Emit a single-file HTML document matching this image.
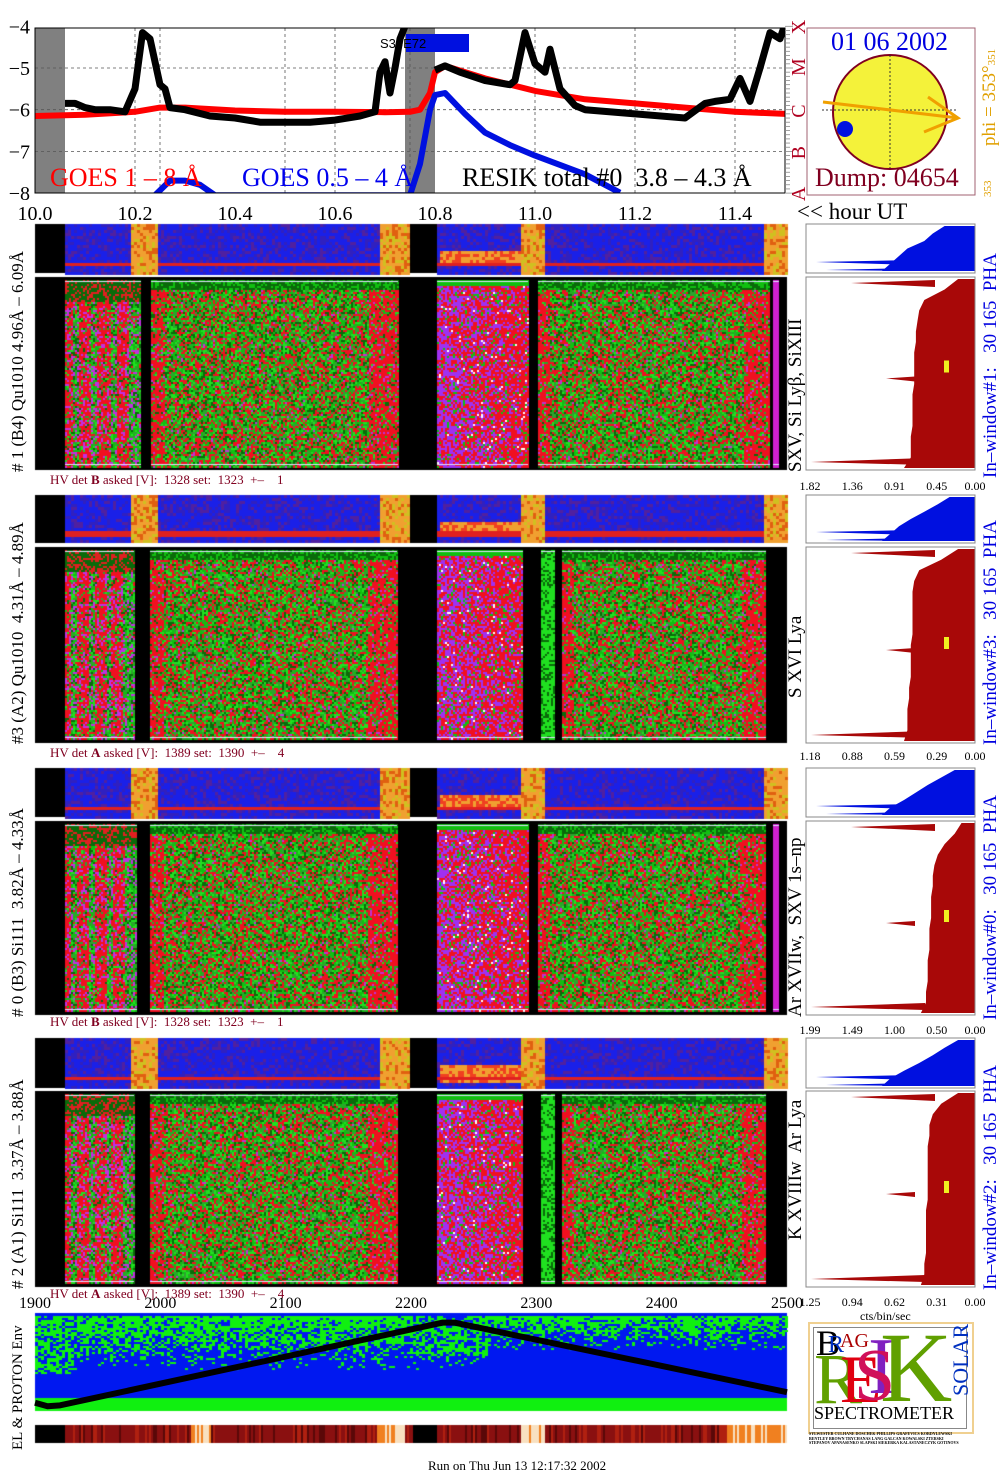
<!DOCTYPE html>
<html><head><meta charset="utf-8">
<style>
body{margin:0;background:#fff;width:1008px;height:1481px;position:relative;overflow:hidden;font-family:"Liberation Serif",serif}
.a{position:absolute}
canvas{position:absolute}
.rot{position:absolute;transform-origin:0 0;transform:rotate(-90deg);white-space:nowrap}
.hv{position:absolute;font-size:13px;color:#800020;white-space:nowrap}
</style></head><body>
<canvas id="cv" width="1008" height="1481" style="left:0;top:0"></canvas>
<svg class="a" style="left:0;top:0" width="1008" height="225" id="topsvg">
</svg>
<svg class="a" style="left:0;top:0" width="1008" height="1481" id="ov"></svg>

<div class="rot" style="left:8px;top:472px;font-size:17px">#&nbsp;1 (B4) Qu1010 4.96Å – 6.09Å</div>
<div class="rot" style="left:8px;top:744px;font-size:17px">#3 (A2) Qu1010&nbsp; 4.31Å – 4.89Å</div>
<div class="rot" style="left:8px;top:1017px;font-size:17px">#&nbsp;0 (B3) Si111&nbsp; 3.82Å – 4.33Å</div>
<div class="rot" style="left:8px;top:1289px;font-size:17px">#&nbsp;2 (A1) Si111&nbsp; 3.37Å – 3.88Å</div>
<div class="rot" style="left:10px;top:1450px;font-size:15px">EL &amp; PROTON Env</div>

<div class="rot" style="left:785px;top:472px;font-size:19px">SXV, Si Lyβ, SiXIII</div>
<div class="rot" style="left:785px;top:698px;font-size:19px">S XVI Lya</div>
<div class="rot" style="left:785px;top:1017px;font-size:19px">Ar XVIIw,&nbsp; SXV 1s–np</div>
<div class="rot" style="left:785px;top:1240px;font-size:19px">K XVIIIw&nbsp; Ar Lya</div>

<div class="rot" style="left:980px;top:478px;font-size:19px;color:#0000e0">In–window#1:&nbsp;&nbsp; 30 165&nbsp; PHA</div>
<div class="rot" style="left:980px;top:745px;font-size:19px;color:#0000e0">In–window#3:&nbsp;&nbsp; 30 165&nbsp; PHA</div>
<div class="rot" style="left:980px;top:1020px;font-size:19px;color:#0000e0">In–window#0:&nbsp;&nbsp; 30 165&nbsp; PHA</div>
<div class="rot" style="left:980px;top:1290px;font-size:19px;color:#0000e0">In–window#2:&nbsp;&nbsp; 30 165&nbsp; PHA</div>

<div class="hv" style="left:50px;top:472px">HV det <b>B</b> asked [V]:&nbsp; 1328 set:&nbsp; 1323&nbsp; +–&nbsp;&nbsp;&nbsp; 1</div>
<div class="hv" style="left:50px;top:745px">HV det <b>A</b> asked [V]:&nbsp; 1389 set:&nbsp; 1390&nbsp; +–&nbsp;&nbsp;&nbsp; 4</div>
<div class="hv" style="left:50px;top:1014px">HV det <b>B</b> asked [V]:&nbsp; 1328 set:&nbsp; 1323&nbsp; +–&nbsp;&nbsp;&nbsp; 1</div>
<div class="hv" style="left:50px;top:1286px">HV det <b>A</b> asked [V]:&nbsp; 1389 set:&nbsp; 1390&nbsp; +–&nbsp;&nbsp;&nbsp; 4</div>

<div class="a" style="left:831px;top:27px;font-size:26px;color:#0000e0">01 06 2002</div>
<div class="a" style="left:815px;top:163px;font-size:26px;color:#800020">Dump: 04654</div>
<div class="rot" style="left:979px;top:146px;font-size:19px;color:#e0a000">phi = 353°<span style="font-size:11px">351</span></div>
<div class="rot" style="left:982px;top:197px;font-size:11px;color:#e0a000">353</div>
<div class="a" style="left:797px;top:199px;font-size:23px">&lt;&lt; hour UT</div>
<div class="a" style="left:860px;top:1309px;font-size:12px">cts/bin/sec</div>
<div class="a" style="left:428px;top:1458px;font-size:13px">Run on Thu Jun 13 12:17:32 2002</div>

<div class="a" style="left:808px;top:1322px;width:162px;height:108px;border:2px solid #f0d090;background:#fff;overflow:hidden">
 <div class="a" style="left:3px;top:3px;width:152px;height:100px;border:1px solid #888"></div>
 <div class="a" style="left:6px;top:-2px;font-size:36px;color:#000">B</div>
 <div class="a" style="left:18px;top:8px;font-size:24px;color:#0030c0">R</div>
 <div class="a" style="left:30px;top:6px;font-size:20px;color:#a00">AG</div>
 <div class="a" style="left:4px;top:14px;font-size:72px;color:#60a000">R</div>
 <div class="a" style="left:30px;top:16px;font-size:68px;color:#e00010">E</div>
 <div class="a" style="left:58px;top:-2px;font-size:80px;color:#8020c0">I</div>
 <div class="a" style="left:44px;top:10px;font-size:74px;color:#d0105a">S</div>
 <div class="a" style="left:70px;top:-14px;font-size:100px;color:#60a000">K</div>
 <div class="rot" style="left:138px;top:72px;font-size:22px;color:#0030c0">SOLAR</div>
 <div class="a" style="left:4px;top:80px;font-size:18px;color:#000;background:#fff;line-height:18px">SPECTROMETER</div>
</div>
<div class="a" style="left:809px;top:1432px;font-size:4px;line-height:4.5px;width:165px;font-weight:bold">SYLWESTER CULHANE DOSCHEK PHILLIPS GRAFEVICS KORDYLEWSKI<br>BENTLEY BROWN TRYCHANAS LANG GALCAN KOWALSKI ZTERSKI<br>STEPANOV APANASENKO SLAPSKI SIEKERKA KALASTANECZYK GOTINOVS</div>

<script>
// ---------- GOES / RESIK chart data ----------
const resikT = [10.06,10.08,10.10,10.12,10.15,10.18,10.20,10.215,10.23,10.25,10.26,10.27,10.30,10.35,10.40,10.45,10.50,10.55,10.60,10.65,10.68,10.69,10.70,10.71,10.72,10.73,10.74,10.745];
const resikV = [-5.85,-5.85,-5.95,-6.0,-6.0,-6.05,-5.5,-4.15,-4.3,-5.4,-5.5,-5.95,-6.0,-6.15,-6.2,-6.3,-6.3,-6.3,-6.25,-6.15,-6.05,-5.1,-4.85,-5.6,-5.0,-4.3,-4.0,-3.9];
const resikT2 = [10.8,10.82,10.85,10.9,10.95,10.96,10.98,11.0,11.02,11.03,11.05,11.08,11.1,11.2,11.3,11.34,11.36,11.39,11.41,11.43,11.45,11.47,11.49,11.5];
const resikV2 = [-5.05,-4.95,-5.1,-5.3,-5.4,-5.3,-4.15,-4.9,-5.1,-4.55,-5.5,-5.9,-6.0,-6.1,-6.2,-5.85,-5.8,-5.75,-5.25,-5.8,-5.0,-4.15,-4.3,-3.95];
const goesLT = [10.0,10.1,10.2,10.25,10.3,10.4,10.5,10.6,10.7,10.75,10.77,10.79,10.8,10.82,10.9,11.0,11.1,11.2,11.3,11.4,11.5];
const goesLV = [-6.15,-6.12,-6.05,-5.95,-5.95,-6.02,-6.05,-6.05,-6.06,-6.05,-6.0,-5.6,-5.1,-4.95,-5.25,-5.55,-5.75,-5.85,-5.95,-6.05,-6.1];
const goesST = [10.24,10.27,10.3,10.33,10.36,10.75,10.77,10.79,10.8,10.82,10.86,10.9,10.95,11.0,11.1,11.17];
const goesSV = [-8.05,-7.7,-7.7,-7.8,-8.05,-8.05,-7.3,-6.0,-5.65,-5.6,-6.1,-6.55,-6.85,-7.1,-7.55,-7.99];
const yTicks = [-4,-5,-6,-7,-8];
const xTicks = [10.0,10.2,10.4,10.6,10.8,11.0,11.2,11.4];
const NS='http://www.w3.org/2000/svg';
const X0=35,X1=785,YT=28,YB=193;
const xs=h=>X0+(h-10)*(X1-X0)/1.5;
const ys=v=>68+(-5-v)*41.7;
function mk(p,tag,at){const e=document.createElementNS(NS,tag);for(const k in at)e.setAttribute(k,at[k]);p.appendChild(e);return e;}
const topSvg=document.getElementById('topsvg');
const defs=mk(topSvg,'defs',{});const cp=mk(defs,'clipPath',{id:'pc'});mk(cp,'rect',{x:X0,y:YT,width:X1-X0,height:YB-YT});
let g=mk(topSvg,'rect',{x:xs(10),y:YT,width:xs(10.06)-xs(10),height:YB-YT,fill:'#808080'});


g=mk(topSvg,'rect',{x:xs(10.74),y:YT,width:xs(10.8)-xs(10.74),height:YB-YT,fill:'#808080'});


[10.2,10.25,10.5,10.6,10.75,11.0,11.2,11.4].forEach(h=>mk(topSvg,'line',{x1:xs(h),x2:xs(h),y1:YT,y2:YB,stroke:'#555','stroke-dasharray':'3,3','stroke-width':0.8}));
[-5,-6,-7].forEach(v=>mk(topSvg,'line',{x1:X0,x2:X1,y1:ys(v),y2:ys(v),stroke:'#555','stroke-dasharray':'3,3','stroke-width':0.8}));
function line(T,V,col,w,name){const d=T.map((t,i)=>(i?'L':'M')+xs(t).toFixed(1)+','+ys(V[i]).toFixed(1)).join('');const p=mk(topSvg,'path',{d:d,fill:'none',stroke:col,'stroke-width':w,'stroke-linejoin':'round','clip-path':'url(#pc)'});

}
line(goesLT,goesLV,'#ff0000',6,'goes-1-8-line');
line(goesST,goesSV,'#0010e0',6,'goes-05-4-line');
line(resikT,resikV,'#000',7,'resik-total-line-a');
line(resikT2,resikV2,'#000',7,'resik-total-line-b');
mk(topSvg,'rect',{x:X0,y:YT,width:X1-X0,height:YB-YT,fill:'none',stroke:'#000','stroke-width':1});
yTicks.forEach(v=>{const t=mk(topSvg,'text',{x:30,y:ys(v)+7,'text-anchor':'end','font-size':20,'font-family':'Liberation Serif'});t.textContent=String(v).replace('-','−');});
xTicks.forEach(h=>{const t=mk(topSvg,'text',{x:xs(h),y:220,'text-anchor':'middle','font-size':20,'font-family':'Liberation Serif'});t.textContent=h.toFixed(1);});
mk(topSvg,'rect',{x:406,y:34,width:63,height:18,fill:'#0010e0'});
let tt=mk(topSvg,'text',{x:380,y:48,'font-size':13,'font-family':'Liberation Sans'});tt.textContent='S30E72';
[['GOES 1 – 8 Å',50,'#f00'],['GOES 0.5 – 4 Å',242,'#00e'],['RESIK total #0  3.8 – 4.3 Å',462,'#000']].forEach(a=>{const t=mk(topSvg,'text',{x:a[1],y:186,'font-size':26,fill:a[2],'font-family':'Liberation Serif',style:'white-space:pre'});t.textContent=a[0];});
for(let v=-4;v>=-8;v-=0.1){mk(topSvg,'line',{x1:X1,x2:X1+(Math.abs(v-Math.round(v))<0.01?8:5),y1:ys(v),y2:ys(v),stroke:'#888','stroke-width':0.8});}
['X','M','C','B','A'].forEach((ch,i)=>{const t=mk(topSvg,'text',{x:0,y:0,'font-size':20,fill:'#b00020','font-family':'Liberation Serif',transform:`translate(${X1+20},${ys(-4-i)+8}) rotate(-90)`});t.textContent=ch;});
mk(topSvg,'rect',{x:807,y:28,width:168,height:167,fill:'none',stroke:'#a06070'});
mk(topSvg,'circle',{cx:890,cy:112,r:57,fill:'#f4f23a',stroke:'#800020','stroke-width':2});
mk(topSvg,'line',{x1:822,x2:958,y1:110,y2:110,stroke:'#333','stroke-dasharray':'2,2'});
mk(topSvg,'line',{x1:890,x2:890,y1:55,y2:168,stroke:'#333','stroke-dasharray':'2,2'});
mk(topSvg,'path',{d:'M823,102 L958,118 M928,97 L958,118 L924,132',stroke:'#f0a000','stroke-width':3,fill:'none'});
mk(topSvg,'circle',{cx:845,cy:129,r:8,fill:'#0010e0'});

// ---------- spectrogram textures ----------
const cv=document.getElementById('cv');const c=cv.getContext('2d');
let seed=12345;const R=()=>{seed=(seed*1103515245+12345)&0x7fffffff;return seed/0x7fffffff;};
const panels=[
 {s:[224,273],m:[277,470],segs:[[65,141,'rs'],[151,398,'mx'],[437,528,'pu'],[538,770,'mx'],[773,779,'mg']]},
 {s:[495,543],m:[547,743],segs:[[65,134,'rs'],[150,397,'mx'],[437,523,'pu'],[541,555,'gr'],[562,766,'mx']]},
 {s:[768,817],m:[821,1015],segs:[[65,137,'rs'],[150,397,'mx'],[437,528,'pu'],[538,766,'mx'],[773,779,'mg']]},
 {s:[1038,1088],m:[1091,1287],segs:[[65,134,'rs'],[150,397,'mx'],[437,522,'pu'],[541,555,'gr'],[562,766,'mx']]}];
const GR=['#10c010','#20e020','#0a6a0a','#30a030'];
function pick(type,fx,fy){const r=R();
 if(type==='mx'){const red=0.33+(fx>0.88?0.4:0)+(fx<0.05?0.4:0);if(fy<0.06)return r<0.6?GR[2]:GR[0];if(r<red)return r<red*0.9?'#f01020':'#c030d0';return GR[Math.floor(R()*4)];}
 if(type==='rs'){const col=Math.floor(fx*12);const green=(col%3===1||fx>0.88)?0.7:0.2;if(fy<0.12)return r<0.6?GR[2]:'#e02020';if(r<green)return GR[Math.floor(R()*4)];return r<0.8?'#f01020':'#c030e0';}
 if(type==='pu'){if(fy<0.04)return GR[0];if(r<0.55-fx*0.35)return r<0.02?'#ffffff':'#a030f0';if(r<0.9)return '#f01020';return GR[0];}
 if(type==='gr'){return r<0.7?GR[1]:GR[2];}
 return '#d020d0';
}
panels.forEach(p=>{
 const [s0,s1]=p.s;c.fillStyle='#000';c.fillRect(35,s0,752,s1-s0);
 for(let x=65;x<787;x+=3){ if(x>=410&&x<437)continue;
  const hot=(x>130&&x<158)||(x>378&&x<410)||(x>520&&x<543)||(x>762);
  for(let y=s0;y<s1;y+=3){const fy=(y-s0)/(s1-s0);let col;
   if(hot){col=R()<0.5?'#f0a030':(R()<0.5?'#e06010':'#d0c020');}
   else if(fy>0.74&&fy<0.82){col='#e02020';}
   else if(x>437&&x<520&&fy>0.5&&fy<0.85){col=R()<0.5?'#f04020':'#f0a030';}
   else {const r=R();col=r<0.55?'#1a20e8':(r<0.8?'#3020c0':'#5020a0');}
   c.fillStyle=col;c.fillRect(x,y,3,3);}}
 const [m0,m1]=p.m;c.fillStyle='#000';c.fillRect(35,m0,752,m1-m0);
 p.segs.forEach(sg=>{const [x0,x1,t]=sg;for(let x=x0;x<x1;x+=2)for(let y=m0+3;y<m1-3;y+=2){c.fillStyle=pick(t,(x-x0)/(x1-x0),(y-m0)/(m1-m0));c.fillRect(x,y,2,2);}
  c.fillStyle='#e0e0ff';c.fillRect(x0,m0+4,x1-x0,1);c.fillRect(x0,m1-6,x1-x0,1);});
});
c.fillStyle='#0018f0';c.fillRect(35,1313,752,98);
for(let y=1316;y<1398;y+=2){for(let x=35;x<787;x+=3){const fx=(x-35)/752,fy=(y-1313)/85;
 let pg=0.95-fy*1.4; if(fx<0.05&&fy<0.7)pg=0.6; if(fx>0.5&&fx<0.6&&fy<0.5)pg=0.6; if(fx>0.6)pg=0.95-fy*2.2;
 if(R()<pg){c.fillStyle='#10f010';c.fillRect(x,y,3,2);}}}
c.fillStyle='#10f010';c.fillRect(35,1398,752,13);
for(let x=35;x<787;x+=2){let col;if(x<65||(x>=412&&x<437))col='#000';else{const r=R();
 const light=(x>190&&x<210)||(x>375&&x<405)||(x>520&&x<545)||(x>725);col=light?(r<0.5?'#f08020':'#f8e0c0'):(r<0.6?'#8a1010':(r<0.85?'#b02010':'#5a0808'));}
 c.fillStyle=col;c.fillRect(x,1425,2,18);}

// ---------- overlay: histograms, trajectory, ticks ----------
const ov=document.getElementById('ov');
const trajT=[1900,1910,1920,2225,2235,2500];
const trajV=[0.06,0.02,0.03,0.97,0.97,0.18];
const px=t=>35+(t-1900)*752/600,py=v=>1408-v*88;
let tr=mk(ov,'path',{d:trajT.map((t,i)=>(i?'L':'M')+px(t)+','+py(trajV[i])).join(''),fill:'none',stroke:'#000','stroke-width':6,'stroke-linejoin':'round'});


const pxTicks=[1900,2000,2100,2200,2300,2400,2500];
pxTicks.forEach(t=>{const e=mk(ov,'text',{x:px(t),y:1308,'text-anchor':'middle','font-size':16,'font-family':'Liberation Serif'});e.textContent=t;});
const hist=[
 {s:[224,273],m:[277,470],ticks:['1.82','1.36','0.91','0.45','0.00'],ty:490,prof:[0.1,0.18,0.3,0.33,0.34,0.35,0.35,0.36,0.36,0.36,0.36,0.37,0.37,0.37,0.37,0.38,0.38,0.38,0.42],sprof:[0.18,0.25,0.3,0.4,0.45,0.5,0.55]},
 {s:[495,543],m:[547,743],ticks:['1.18','0.88','0.59','0.29','0.00'],ty:760,prof:[0.1,0.2,0.33,0.36,0.37,0.37,0.37,0.37,0.37,0.38,0.38,0.38,0.38,0.39,0.39,0.4,0.4,0.4,0.42],sprof:[0.15,0.22,0.3,0.38,0.45,0.5,0.55]},
 {s:[768,817],m:[821,1015],ticks:['1.99','1.49','1.00','0.50','0.00'],ty:1034,prof:[0.08,0.12,0.18,0.22,0.24,0.25,0.25,0.26,0.26,0.26,0.27,0.27,0.27,0.28,0.28,0.28,0.29,0.29,0.32],sprof:[0.12,0.2,0.28,0.35,0.42,0.5,0.55]},
 {s:[1038,1088],m:[1091,1287],ticks:['1.25','0.94','0.62','0.31','0.00'],ty:1306,prof:[0.1,0.2,0.25,0.27,0.27,0.28,0.28,0.28,0.28,0.28,0.28,0.29,0.29,0.29,0.29,0.29,0.3,0.3,0.32],sprof:[0.1,0.18,0.25,0.33,0.42,0.5,0.55]}];
const HX0=806,HX1=975,HW=169;
hist.forEach((h,k)=>{
 const mkfill=(y0,y1,prof,col,name)=>{let pts=[HX1+','+y0];prof.forEach((w,i)=>{const y=y0+(y1-y0)*i/(prof.length-1);pts.push((HX1-w*HW).toFixed(1)+','+y.toFixed(1));});pts.push(HX1+','+y1);
  const e=mk(ov,'polygon',{points:pts.join(' '),fill:col});
  
  };
 mkfill(h.m[0]+2,h.m[1]-2,h.prof,'#a80808','pha-histogram-'+(k+1));
 mkfill(h.s[0]+2,h.s[1]-2,h.sprof,'#0010e0','pha-histogram-small-'+(k+1));
 mk(ov,'polygon',{points:`${HX0+10},${h.s[1]-11} ${HX1-60},${h.s[1]-13} ${HX1-60},${h.s[1]-8}`,fill:'#0010e0'});
 mk(ov,'polygon',{points:`${HX0+20},${h.s[1]-3} ${HX1-60},${h.s[1]-5} ${HX1-60},${h.s[1]-2}`,fill:'#0010e0'});
 mk(ov,'polygon',{points:`${HX0+45},${h.m[0]+6} ${HX1-40},${h.m[0]+3} ${HX1-40},${h.m[0]+10}`,fill:'#a80808'});
 mk(ov,'polygon',{points:`${HX0+5},${h.m[1]-8} ${HX1-50},${h.m[1]-12} ${HX1-50},${h.m[1]-5}`,fill:'#a80808'});
 mk(ov,'polygon',{points:`${HX0+80},${(h.m[0]+h.m[1])/2+5} ${HX1-60},${(h.m[0]+h.m[1])/2+3} ${HX1-60},${(h.m[0]+h.m[1])/2+8}`,fill:'#a80808'});
 mk(ov,'rect',{x:944,y:(h.m[0]+h.m[1])/2-8+(k===0?-5:0),width:5,height:12,fill:'#f0f020'});
 mk(ov,'rect',{x:HX0,y:h.s[0],width:HW,height:h.s[1]-h.s[0],fill:'none',stroke:'#888'});
 mk(ov,'rect',{x:HX0,y:h.m[0],width:HW,height:h.m[1]-h.m[0],fill:'none',stroke:'#888'});
 h.ticks.forEach((t,i)=>{const e=mk(ov,'text',{x:HX0+4+i*HW/4-(i==4?4:0),y:h.ty,'text-anchor':'middle','font-size':12,'font-family':'Liberation Serif'});e.textContent=t;});
});
</script>
</body></html>
